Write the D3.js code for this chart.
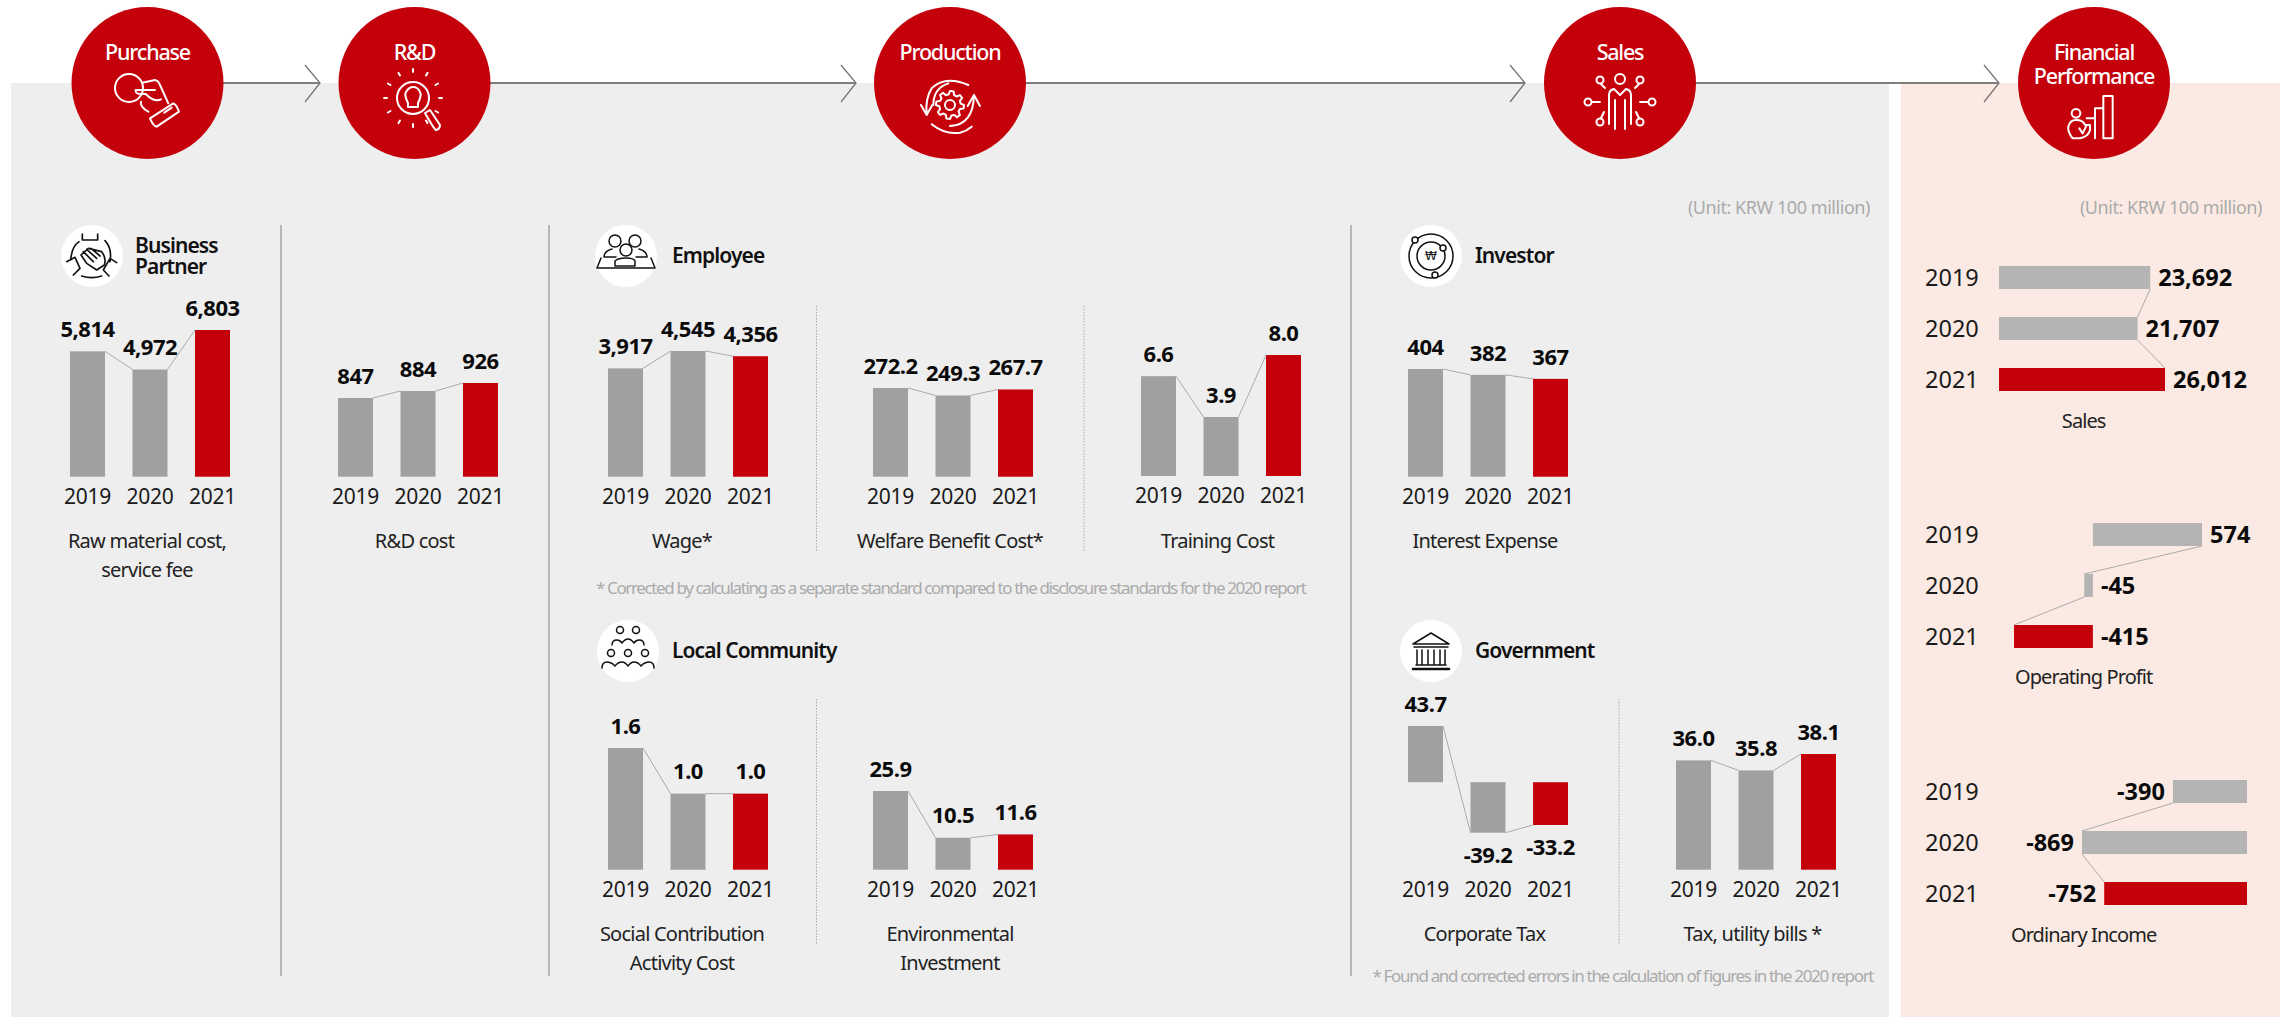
<!DOCTYPE html>
<html>
<head>
<meta charset="utf-8">
<title>Value chain</title>
<script src="https://d3js.org/d3.v7.min.js"></script>
<style>
  html, body { margin: 0; padding: 0; background: #fff; }
  text { font-family: "Noto Sans", sans-serif; }
  .year { font-size: 21px; fill: #1a1a1a; letter-spacing: -0.2px; }
  .value { font-size: 22px; font-weight: 700; fill: #0a0a0a; letter-spacing: -0.5px; }
  .name { font-size: 20px; fill: #222; letter-spacing: -0.76px; }
  .group { font-size: 21px; font-weight: 600; fill: #111; letter-spacing: -0.9px; }
  .stage { font-size: 21.5px; font-weight: 500; fill: #fff; letter-spacing: -1.2px; }
  .unit { font-size: 18px; fill: #aaa; letter-spacing: -0.45px; }
  .note { font-size: 17px; fill: #aaa; }
  .hyear { font-size: 23.5px; fill: #1a1a1a; }
  .hvalue { font-size: 23.5px; font-weight: 700; fill: #0a0a0a; }
  .hname { font-size: 20px; fill: #222; letter-spacing: -0.9px; }
</style>
</head>
<body>
<div id="chart"></div>
<script>
// Years and values
var years = ["2019", "2020", "2021"];

var rawMaterialCost = [5814, 4972, 6803];
var rdCost = [847, 884, 926];
var wage = [3917, 4545, 4356];
var welfareCost = [272.2, 249.3, 267.7];
var trainingCost = [6.6, 3.9, 8.0];
var socialCost = [1.6, 1.0, 1.0];
var environmentInvestment = [25.9, 10.5, 11.6];
var interestExpense = [404, 382, 367];
var corporateTax = [43.7, -39.2, -33.2];
var taxUtilityBills = [36.0, 35.8, 38.1];
// the original draws the 2020 bar shorter than its 35.8 label says
var taxUtilityBarLengths = [36.0, 32.7, 38.1];

var salesValues = [23692, 21707, 26012];
var operatingProfit = [574, -45, -415];
var ordinaryIncome = [-390, -869, -752];

var stageNames = [["Purchase"], ["R&D"], ["Production"], ["Sales"], ["Financial", "Performance"]];

// SVG area
var svg_Width = 2285;
var svg_Height = 1017;

var red = "#c4000b";
var barGrey = "#9fa09f";
var hbarGrey = "#b3b4b3";

var svg = d3.select("#chart")
  .append("svg")
  .attr("width", svg_Width)
  .attr("height", svg_Height)
  .style("display", "block");

// Number formats, keeping a plain hyphen for negatives like the original
var locale = d3.formatLocale({ decimal: ".", thousands: ",", grouping: [3], currency: ["", ""], minus: "-" });
var fmtInt = locale.format(",");
var fmtDec = locale.format(".1f");

// Background panels
svg.append("rect").attr("x", 11).attr("y", 83).attr("width", 1878).attr("height", 934).attr("fill", "#eeeeee");
svg.append("rect").attr("x", 1901).attr("y", 83).attr("width", 379).attr("height", 934).attr("fill", "#fbeae3");

// Process arrows
var arrows = [[223, 320], [490, 856], [1026, 1525], [1696, 1999]];
arrows.forEach(function(a) {
  svg.append("line")
    .attr("x1", a[0]).attr("x2", a[1]).attr("y1", 83).attr("y2", 83)
    .attr("stroke", "#555").attr("stroke-width", 1.5);
  svg.append("path")
    .attr("d", `M${a[1] - 15},65 L${a[1]},83 L${a[1] - 15},102`)
    .attr("fill", "none").attr("stroke", "#777").attr("stroke-width", 1.3);
});

// Stage bubbles
var stageX = [147.5, 414.5, 950, 1620, 2094];
var stage_Group = svg.selectAll(".stageBubble")
  .data(stageNames)
  .enter()
  .append("g")
  .attr("class", "stageBubble")
  .attr("transform", (d, i) => `translate(${stageX[i]}, 83)`);

stage_Group.append("circle").attr("r", 76).attr("fill", red);

stage_Group.each(function(d) {
  d3.select(this).selectAll("text")
    .data(d)
    .enter()
    .append("text")
    .attr("class", "stage")
    .attr("text-anchor", "middle")
    .attr("y", (t, j) => -31 + j * 24)
    .attr("dy", "0.35em")
    .text(t => t);
});

// White line icons in the bubbles. Paths are in zoomed crop coordinates, hence the scale
function lineIcon(parent, transform, color, width) {
  return parent.append("g")
    .attr("transform", transform)
    .attr("fill", "none")
    .attr("stroke", color)
    .attr("stroke-width", width)
    .attr("stroke-linecap", "round")
    .attr("stroke-linejoin", "round");
}

// Purchase
var ic = lineIcon(svg, "translate(105,60) scale(0.3333)", "#fff", 6);
ic.append("circle").attr("cx", 72).attr("cy", 84).attr("r", 42);
ic.append("path").attr("d", "M112,68 L150,60 Q160,62 165,75 L190,130 M92,90 H150 M92,90 Q90,102 108,102 L122,102 Q148,128 168,118 M108,125 Q104,140 130,155");
ic.append("path").attr("d", "M135,175 L205,130 Q214,133 222,155 L155,200 Q146,200 135,175 Z M178,158 L200,143");

// R&D
ic = lineIcon(svg, "translate(413,98)", "#fff", 2);
ic.append("circle").attr("r", 16);
ic.append("path").attr("d", "M-5,5 Q-9,-3 -7,-6 Q-4,-11 0,-11 Q5,-11 7,-6 Q9,-3 5,5 V9 H-5 Z");
ic.append("path").attr("d", "M12,15 L17,12 L27,27 Q27,31 23,32 Q21,31 12,15 Z");
ic.append("path").attr("d", d3.range(12).map(function(i) {
  var a = i * Math.PI / 6;
  return `M${26 * Math.cos(a)},${26 * Math.sin(a)} L${29 * Math.cos(a)},${29 * Math.sin(a)}`;
}).join(" "));

// Production
ic = lineIcon(svg, "translate(905,30) scale(0.3333)", "#fff", 6);
var gearPoints = d3.range(48).map(function(i) {
  return [i * Math.PI / 24, i % 6 < 3 ? 42 : 32];
});
ic.append("path")
  .attr("transform", "translate(135,225)")
  .attr("d", d3.lineRadial().curve(d3.curveLinearClosed)(gearPoints));
ic.append("circle").attr("cx", 135).attr("cy", 225).attr("r", 15);
ic.append("path").attr("d", "M190,165 Q120,135 80,175 Q60,205 65,255 M48,225 L65,255 L82,225 M85,225 Q85,175 130,160");
ic.append("path").attr("d", "M135,288 Q205,285 207,195 M188,228 L207,195 L225,228 M80,283 Q120,315 165,308 Q185,303 200,290");

// Sales
ic = lineIcon(svg, "translate(1620,100)", "#fff", 2);
ic.append("circle").attr("cy", -21).attr("r", 5);
ic.append("path").attr("d", "M-11,24 V-5 Q-11,-10 -6,-11 L0,-5 L6,-11 Q11,-10 11,-5 V24 M-5,0 V29 M5,0 V29");
ic.selectAll(".node").data([[-20, -20], [20, -20], [-32, 2], [32, 2], [-20, 22], [20, 22]]).enter()
  .append("circle").attr("cx", d => d[0]).attr("cy", d => d[1]).attr("r", 3.5);
ic.append("path").attr("d", "M-19,-16 L-15,-12 M19,-16 L15,-12 M-28,2 H-20 M28,2 H20 M-19,18 L-16,12 M19,18 L16,12");

// Financial Performance
ic = lineIcon(svg, "translate(2060,85) scale(0.3333)", "#fff", 6);
ic.append("path").attr("d", "M80,100 H105 V70 H130 V33 H158 V160 H130 V70 M105,70 V160");
ic.append("circle").attr("cx", 48).attr("cy", 85).attr("r", 13);
ic.append("path").attr("d", "M25,125 Q30,105 48,105 Q70,105 75,120 L90,120 L90,135 Q85,155 60,160 L38,160 Q22,140 25,125 M58,130 L68,145 L78,125");

// Group headings with their round white icons
var groupHeads = [
  { x: 92, y: 256, label: ["Business", "Partner"], tx: 135 },
  { x: 626, y: 256, label: ["Employee"], tx: 672 },
  { x: 1431, y: 256, label: ["Investor"], tx: 1475 },
  { x: 628, y: 651, label: ["Local Community"], tx: 672 },
  { x: 1431, y: 651, label: ["Government"], tx: 1475 }
];

groupHeads.forEach(function(h) {
  svg.append("circle").attr("cx", h.x).attr("cy", h.y).attr("r", 31).attr("fill", "#fff");
  h.label.forEach(function(t, j) {
    svg.append("text")
      .attr("class", "group")
      .attr("x", h.tx)
      .attr("y", h.y + (j - (h.label.length - 1) / 2) * 21)
      .attr("dy", "0.35em")
      .text(t);
  });
});

// Business Partner
ic = lineIcon(svg, "translate(55,220) scale(0.3333)", "#111", 5);
ic.append("path").attr("d", "M82,42 V60 H128 V42 M72,65 Q50,80 47,120 M150,62 Q172,85 165,125 M80,168 Q110,178 140,168 M35,125 L60,112 L75,145 L55,165 M185,128 L165,115 L145,150 L162,168");
ic.append("path").attr("d", "M78,105 L100,85 L140,95 Q155,115 148,135 L125,150 L95,130 Z M85,95 L115,125 M95,88 L125,115 M108,85 L135,108");

// Employee
ic = lineIcon(svg, "translate(626,256)", "#111", 1.5);
ic.append("circle").attr("cx", -11).attr("cy", -15).attr("r", 6);
ic.append("circle").attr("cx", 9).attr("cy", -15).attr("r", 6);
ic.append("circle").attr("cx", 0).attr("cy", -6).attr("r", 6);
ic.append("path").attr("d", "M-22,1 Q-22,-5 -14,-7 M21,1 Q21,-5 13,-7 M-22,1 H-10 M10,1 H21 M-11,10 V5 Q-8,2 0,2 Q8,2 9,5 V10 H-11 M-29,12 L-25,2 M29,12 L25,2 M-29,12 H29");

// Investor
ic = lineIcon(svg, "translate(1431,256)", "#111", 1.5);
ic.append("circle").attr("r", 22);
ic.append("circle").attr("r", 14);
ic.selectAll(".dot").data([[-16, -16], [12, -8], [4, 19]]).enter()
  .append("circle").attr("cx", d => d[0]).attr("cy", d => d[1]).attr("r", 3).attr("fill", "#fff");
svg.append("text")
  .attr("x", 1431).attr("y", 256).attr("dy", "0.35em")
  .attr("text-anchor", "middle")
  .attr("font-size", 12).attr("fill", "#111")
  .style("font-family", "DejaVu Sans")
  .text("\u20a9");

// Local Community
ic = lineIcon(svg, "translate(628,651)", "#111", 1.5);
[[-8, -21], [8, -21], [-17, 2], [0, 2], [17, 2]].forEach(function(p) {
  ic.append("circle").attr("cx", p[0]).attr("cy", p[1]).attr("r", 3.5);
});
ic.append("path").attr("d", "M-16,-6 Q-16,-11 -11,-11 Q-8,-11 -6,-8 Q-3,-12 0,-12 Q3,-12 6,-8 Q8,-11 11,-11 Q16,-11 16,-6");
ic.append("path").attr("d", "M-26,17 Q-26,11 -21,11 Q-17,11 -13,15 Q-10,11 -6,11 Q-3,11 0,15 Q3,11 6,11 Q10,11 13,15 Q17,11 21,11 Q26,11 26,17");

// Government
ic = lineIcon(svg, "translate(1431,651)", "#111", 1.5);
ic.append("path").attr("d", "M0,-18 L-18,-7 H18 Z M-17,-4 H17 M-14,-1 V13 M-9,-1 V13 M-3,-1 V13 M3,-1 V13 M9,-1 V13 M14,-1 V13 M-15,14 H15");
ic.append("path").attr("d", "M-18,18 H18").attr("stroke-width", 2.5);

// Solid and dotted dividers
[281, 549, 1351].forEach(function(x) {
  svg.append("line")
    .attr("x1", x).attr("x2", x).attr("y1", 225).attr("y2", 976)
    .attr("stroke", "#9a9a9a").attr("stroke-width", 1.3);
});
[[816.5, 306, 552], [1084, 306, 552], [816.5, 699, 945], [1619, 699, 945]].forEach(function(d) {
  svg.append("line")
    .attr("x1", d[0]).attr("x2", d[0]).attr("y1", d[1]).attr("y2", d[2])
    .attr("stroke", "#aaa").attr("stroke-width", 1).attr("stroke-dasharray", "1.5,1.5");
});

// Column charts: pixel frame of each small chart, values come from the arrays above
var columnCharts = [
  { values: rawMaterialCost, fmt: fmtInt, x: 70, base: 476.7, top: 330, lo: 0, name: ["Raw material cost,", "service fee"], nameX: 147, nameY: 541 },
  { values: rdCost, fmt: fmtInt, x: 338, base: 476.7, top: 383, lo: 433, name: ["R&D cost"], nameX: 414.5, nameY: 541 },
  { values: wage, fmt: fmtInt, x: 608, base: 476.7, top: 351, lo: 0, name: ["Wage*"], nameX: 682, nameY: 541 },
  { values: welfareCost, fmt: fmtDec, x: 873, base: 476.7, top: 388, lo: 0, name: ["Welfare Benefit Cost*"], nameX: 950, nameY: 541 },
  { values: trainingCost, fmt: fmtDec, x: 1141, base: 476, top: 355, lo: 0, name: ["Training Cost"], nameX: 1217.5, nameY: 541 },
  { values: interestExpense, fmt: fmtInt, x: 1408, base: 476.7, top: 369, lo: 0, name: ["Interest Expense"], nameX: 1485, nameY: 541 },
  { values: socialCost, fmt: fmtDec, x: 608, base: 869.7, top: 748, lo: 0, name: ["Social Contribution", "Activity Cost"], nameX: 682, nameY: 934 },
  { values: environmentInvestment, fmt: fmtDec, x: 873, base: 869.7, top: 791, lo: 0, name: ["Environmental", "Investment"], nameX: 950, nameY: 934 },
  { values: corporateTax, fmt: fmtDec, x: 1408, base: 832.7, top: 726, lo: -39.2, axisY: 869.7, name: ["Corporate Tax"], nameX: 1484.5, nameY: 934 },
  { values: taxUtilityBarLengths, labels: taxUtilityBills, fmt: fmtDec, x: 1676, base: 869.7, top: 754, lo: 0, name: ["Tax, utility bills *"], nameX: 1752.5, nameY: 934 }
];

columnCharts.forEach(function(c) {
  var x_Scale = d3.scaleBand()
    .domain(years)
    .range([c.x, c.x + 160])
    .paddingInner(0.44);

  var y_Scale = d3.scaleLinear()
    .domain([c.lo, d3.max(c.values)])
    .range([c.base, c.top]);

  var zero = c.lo < 0 ? y_Scale(0) : c.base;
  var labels = c.labels || c.values;
  var g = svg.append("g");

  g.selectAll("rect")
    .data(c.values)
    .enter()
    .append("rect")
    .attr("x", (d, i) => x_Scale(years[i]))
    .attr("y", d => Math.min(y_Scale(d), zero))
    .attr("width", x_Scale.bandwidth())
    .attr("height", d => Math.abs(zero - y_Scale(d)))
    .attr("fill", (d, i) => i === 2 ? red : barGrey);

  // thin connectors between bar ends
  g.selectAll("line")
    .data(d3.pairs(c.values))
    .enter()
    .append("line")
    .attr("x1", (d, i) => x_Scale(years[i]) + x_Scale.bandwidth())
    .attr("x2", (d, i) => x_Scale(years[i + 1]))
    .attr("y1", d => y_Scale(d[0]))
    .attr("y2", d => y_Scale(d[1]))
    .attr("stroke", "#aaa")
    .attr("stroke-width", 1);

  g.selectAll(".value")
    .data(c.values)
    .enter()
    .append("text")
    .attr("class", "value")
    .attr("text-anchor", "middle")
    .attr("x", (d, i) => x_Scale(years[i]) + x_Scale.bandwidth() / 2)
    .attr("y", d => d < 0 ? y_Scale(d) + 22.5 : y_Scale(d) - 22)
    .attr("dy", "0.35em")
    .text((d, i) => c.fmt(labels[i]));

  // year axis, no line or ticks
  var axis_G = g.append("g")
    .attr("transform", `translate(0, ${c.axisY || c.base})`)
    .call(d3.axisBottom(x_Scale).tickSize(0).tickPadding(0));
  axis_G.select(".domain").remove();
  axis_G.selectAll("text")
    .attr("class", "year")
    .attr("y", 20)
    .attr("dy", "0.35em")
    .attr("fill", null)
    .style("font-family", null)
    .style("font-size", null);
  axis_G.attr("font-size", null).attr("font-family", null);

  c.name.forEach(function(t, j) {
    g.append("text")
      .attr("class", "name")
      .attr("text-anchor", "middle")
      .attr("x", c.nameX)
      .attr("y", c.nameY + j * 29)
      .attr("dy", "0.35em")
      .text(t);
  });
});

// Bar charts of the financial panel
var barCharts = [
  { values: salesValues, x0: 1999, x1: 2165, rowY: 266, side: "right", name: "Sales", nameY: 420.7 },
  { values: operatingProfit, x0: 2014, x1: 2202, rowY: 523, side: "right", name: "Operating Profit", nameY: 677 },
  { values: ordinaryIncome, x0: 2082, x1: 2247, rowY: 780, side: "left", name: "Ordinary Income", nameY: 935 }
];

barCharts.forEach(function(c) {
  var ext = d3.extent(c.values.concat([0]));
  var x_Scale = d3.scaleLinear().domain(ext).range([c.x0, c.x1]);
  var y_Scale = d3.scaleBand()
    .domain(years)
    .range([c.rowY, c.rowY + 125])
    .paddingInner(0.549);
  var g = svg.append("g");

  g.selectAll("rect")
    .data(c.values)
    .enter()
    .append("rect")
    .attr("x", d => Math.min(x_Scale(d), x_Scale(0)))
    .attr("y", (d, i) => y_Scale(years[i]))
    .attr("width", d => Math.abs(x_Scale(d) - x_Scale(0)))
    .attr("height", y_Scale.bandwidth())
    .attr("fill", (d, i) => i === 2 ? red : hbarGrey);

  g.selectAll("line")
    .data(d3.pairs(c.values))
    .enter()
    .append("line")
    .attr("x1", d => x_Scale(d[0]))
    .attr("x2", d => x_Scale(d[1]))
    .attr("y1", (d, i) => y_Scale(years[i]) + y_Scale.bandwidth())
    .attr("y2", (d, i) => y_Scale(years[i + 1]))
    .attr("stroke", "#aaa")
    .attr("stroke-width", 1);

  g.selectAll(".hvalue")
    .data(c.values)
    .enter()
    .append("text")
    .attr("class", "hvalue")
    .attr("text-anchor", c.side === "right" ? "start" : "end")
    .attr("x", d => c.side === "right" ? Math.max(x_Scale(d), x_Scale(0)) + 8 : x_Scale(d) - 8)
    .attr("y", (d, i) => y_Scale(years[i]) + y_Scale.bandwidth() / 2)
    .attr("dy", "0.35em")
    .text(d => fmtInt(d));

  var axis_G = g.append("g")
    .attr("transform", "translate(1925, 0)")
    .call(d3.axisLeft(y_Scale).tickSize(0).tickPadding(0));
  axis_G.select(".domain").remove();
  axis_G.selectAll("text")
    .attr("class", "hyear")
    .attr("text-anchor", "start")
    .attr("x", 0)
    .attr("dy", "0.35em")
    .attr("fill", null);
  axis_G.attr("font-size", null).attr("font-family", null).attr("text-anchor", null);

  g.append("text")
    .attr("class", "hname")
    .attr("text-anchor", "middle")
    .attr("x", 2083.7)
    .attr("y", c.nameY)
    .attr("dy", "0.35em")
    .text(c.name);
});

// Units and footnotes
[[1870, 208], [2262, 208]].forEach(function(p) {
  svg.append("text")
    .attr("class", "unit")
    .attr("text-anchor", "end")
    .attr("x", p[0])
    .attr("y", p[1])
    .attr("dy", "0.35em")
    .text("(Unit: KRW 100 million)");
});

svg.append("text")
  .attr("class", "note")
  .attr("x", 596).attr("y", 588).attr("dy", "0.35em")
  .attr("textLength", 711)
  .text("* Corrected by calculating as a separate standard compared to the disclosure standards for the 2020 report");

svg.append("text")
  .attr("class", "note")
  .attr("x", 1372.5).attr("y", 976).attr("dy", "0.35em")
  .attr("textLength", 502)
  .text("* Found and corrected errors in the calculation of figures in the 2020 report");
</script>
</body>
</html>
